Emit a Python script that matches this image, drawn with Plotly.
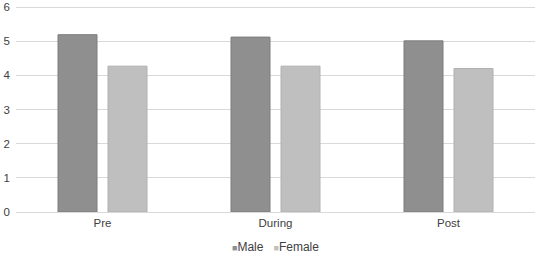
import plotly.graph_objects as go

categories = ["Pre", "During", "Post"]
male = [5.19, 5.12, 5.01]
female = [4.27, 4.27, 4.20]
series_names = ["Male", "Female"]
y_ticks = [0, 1, 2, 3, 4, 5, 6]

fill = ["#8f8f8f", "#bfbfbf"]
edge = ["#7d7d7d", "#b0b0b0"]
font = "Liberation Sans, Arial, sans-serif"
txt = "#404040"

W, H = 536, 253
M = dict(l=16, r=1, t=6, b=41)
plot_h = H - M["t"] - M["b"]

fig = go.Figure()
for name, vals, f, e in zip(series_names, [male, female], fill, edge):
    fig.add_trace(go.Bar(x=categories, y=vals, name=name,
                         marker=dict(color=f, line=dict(color=e, width=1)),
                         showlegend=False))

legend_html = (
    f"<span style='color:{fill[0]};font-size:9px'>■</span>{series_names[0]}&nbsp;&nbsp;&nbsp;"
    f"<span style='color:{fill[1]};font-size:9px'>■</span>{series_names[1]}"
)
legend_px_y = 247
fig.add_annotation(text=legend_html, x=0.5, xref="paper",
                   y=(H - M["b"] - legend_px_y) / plot_h, yref="paper",
                   xanchor="center", yanchor="middle", showarrow=False,
                   font=dict(family=font, size=12, color=txt))

fig.update_layout(
    width=W, height=H,
    margin=M,
    paper_bgcolor="white", plot_bgcolor="white",
    barmode="group", bargap=0.422, bargroupgap=0.22,
    font=dict(family=font, size=11.5, color=txt),
    xaxis=dict(showgrid=False, showline=False, ticks="", ticklabelstandoff=2,
               automargin=False),
    yaxis=dict(range=[0, 6.03], tickvals=y_ticks, showgrid=True, gridcolor="#d9d9d9",
               gridwidth=1, zeroline=True, zerolinecolor="#d9d9d9", zerolinewidth=1,
               showline=False, ticks="", ticklabelstandoff=5, automargin=False),
)

fig.write_html("out.html", config={"displayModeBar": False},
               post_script="document.body.style.margin='0';")
